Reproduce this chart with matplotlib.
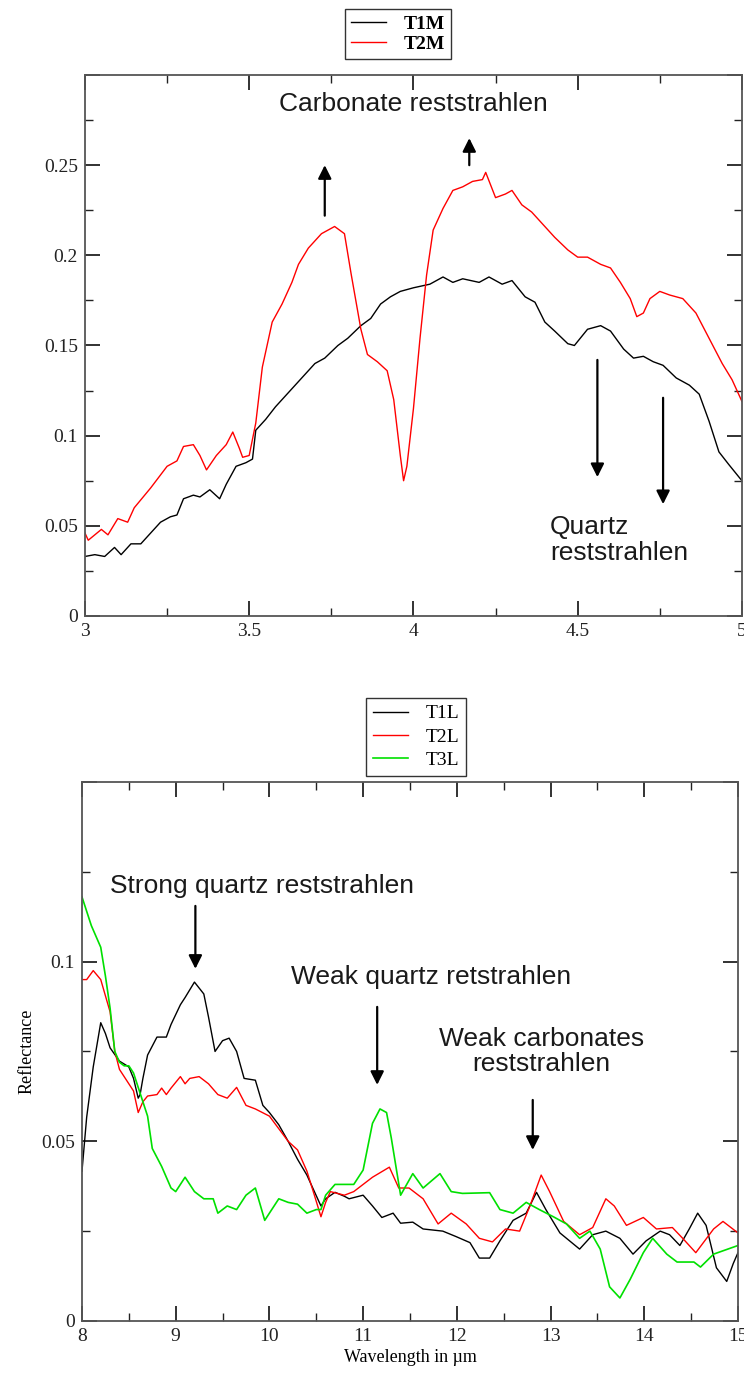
import matplotlib
matplotlib.use("Agg")
import matplotlib.pyplot as plt
from matplotlib.ticker import MultipleLocator, FuncFormatter

# --- mid-IR (3-5 um) spectra ---
wl_t1m = [3.0, 3.03, 3.06, 3.09, 3.11, 3.14, 3.17, 3.2, 3.23, 3.26, 3.28, 3.3, 3.33, 3.35,
          3.38, 3.41, 3.43, 3.46, 3.49, 3.51, 3.52, 3.55, 3.58, 3.62, 3.66, 3.7, 3.73, 3.77,
          3.8, 3.84, 3.87, 3.9, 3.93, 3.96, 4.0, 4.05, 4.09, 4.12, 4.15, 4.2, 4.23, 4.27,
          4.3, 4.34, 4.37, 4.4, 4.43, 4.47, 4.49, 4.53, 4.57, 4.6, 4.64, 4.67, 4.7, 4.73,
          4.76, 4.8, 4.84, 4.87, 4.9, 4.93, 4.96, 5.0]
t1m = [0.033, 0.034, 0.033, 0.038, 0.034, 0.040, 0.040, 0.046, 0.052, 0.055, 0.056, 0.065,
       0.067, 0.066, 0.070, 0.065, 0.073, 0.083, 0.085, 0.087, 0.103, 0.109, 0.116, 0.124,
       0.132, 0.140, 0.143, 0.150, 0.154, 0.161, 0.165, 0.173, 0.177, 0.180, 0.182, 0.184,
       0.188, 0.185, 0.187, 0.185, 0.188, 0.184, 0.186, 0.177, 0.174, 0.163, 0.158, 0.151,
       0.150, 0.159, 0.161, 0.158, 0.148, 0.143, 0.144, 0.141, 0.139, 0.132, 0.128, 0.123,
       0.108, 0.091, 0.084, 0.075]

wl_t2m = [3.0, 3.01, 3.05, 3.07, 3.1, 3.13, 3.15, 3.2, 3.25, 3.28, 3.3, 3.33, 3.35, 3.37,
          3.4, 3.43, 3.45, 3.47, 3.48, 3.5, 3.52, 3.54, 3.57, 3.6, 3.63, 3.65, 3.68, 3.72,
          3.76, 3.79, 3.81, 3.84, 3.86, 3.89, 3.92, 3.94, 3.96, 3.97, 3.98, 4.0, 4.02, 4.04,
          4.06, 4.09, 4.12, 4.15, 4.18, 4.21, 4.22, 4.25, 4.28, 4.3, 4.33, 4.36, 4.4, 4.43,
          4.47, 4.5, 4.53, 4.57, 4.6, 4.63, 4.66, 4.68, 4.7, 4.72, 4.75, 4.78, 4.82, 4.86,
          4.9, 4.94, 4.97, 5.0]
t2m = [0.046, 0.042, 0.048, 0.045, 0.054, 0.052, 0.060, 0.071, 0.083, 0.086, 0.094, 0.095,
       0.089, 0.081, 0.089, 0.095, 0.102, 0.093, 0.088, 0.089, 0.107, 0.138, 0.163, 0.173,
       0.185, 0.195, 0.204, 0.212, 0.216, 0.212, 0.190, 0.159, 0.145, 0.141, 0.136, 0.120,
       0.089, 0.075, 0.083, 0.115, 0.154, 0.189, 0.214, 0.226, 0.236, 0.238, 0.241, 0.242,
       0.246, 0.232, 0.234, 0.236, 0.228, 0.224, 0.216, 0.210, 0.203, 0.199, 0.199, 0.195,
       0.193, 0.185, 0.176, 0.166, 0.168, 0.176, 0.180, 0.178, 0.176, 0.168, 0.154, 0.140,
       0.131, 0.119]

# --- thermal IR (8-15 um) spectra ---
wl_t1l = [8.0, 8.05, 8.12, 8.2, 8.25, 8.3, 8.4, 8.5, 8.55, 8.6, 8.62, 8.65, 8.7, 8.8, 8.9,
          8.95, 9.05, 9.1, 9.2, 9.3, 9.35, 9.42, 9.5, 9.57, 9.65, 9.73, 9.85, 9.93, 10.0,
          10.1, 10.2, 10.3, 10.4, 10.48, 10.55, 10.6, 10.7, 10.8, 10.85, 11.0, 11.1, 11.2,
          11.32, 11.4, 11.53, 11.64, 11.85, 11.99, 12.14, 12.24, 12.35, 12.46, 12.6, 12.74,
          12.85, 12.95, 13.1, 13.31, 13.45, 13.59, 13.74, 13.88, 14.02, 14.17, 14.27, 14.38,
          14.48, 14.57, 14.66, 14.77, 14.88, 14.95, 15.0]
t1l = [0.0417, 0.0567, 0.0707, 0.083, 0.080, 0.076, 0.0723, 0.0707, 0.0675, 0.062, 0.063,
       0.0675, 0.074, 0.079, 0.079, 0.0825, 0.088, 0.090, 0.0943, 0.091, 0.0846, 0.075,
       0.078, 0.0787, 0.075, 0.0675, 0.067, 0.060, 0.058, 0.0546, 0.050, 0.045, 0.0406,
       0.036, 0.032, 0.034, 0.0358, 0.0347, 0.034, 0.035, 0.032, 0.0288, 0.030, 0.0272,
       0.0275, 0.0256, 0.025, 0.0235, 0.0218, 0.0175, 0.0175, 0.0223, 0.028, 0.030, 0.0358,
       0.031, 0.0245, 0.020, 0.024, 0.025, 0.023, 0.0186, 0.0223, 0.025, 0.024, 0.021,
       0.0256, 0.030, 0.0266, 0.0148, 0.011, 0.016, 0.019]

wl_t2l = [8.0, 8.05, 8.12, 8.2, 8.3, 8.35, 8.4, 8.5, 8.55, 8.6, 8.65, 8.7, 8.8, 8.85, 8.9,
          8.95, 9.05, 9.1, 9.15, 9.25, 9.35, 9.45, 9.55, 9.65, 9.75, 9.85, 10.0, 10.1, 10.2,
          10.3, 10.4, 10.48, 10.55, 10.6, 10.65, 10.8, 10.9, 11.0, 11.1, 11.28, 11.38,
          11.49, 11.64, 11.8, 11.94, 12.1, 12.24, 12.38, 12.52, 12.67, 12.78, 12.9, 12.99,
          13.14, 13.31, 13.45, 13.59, 13.68, 13.81, 13.99, 14.13, 14.3, 14.41, 14.55,
          14.74, 14.84, 15.0]
t2l = [0.095, 0.095, 0.0975, 0.095, 0.086, 0.075, 0.070, 0.066, 0.064, 0.058, 0.061,
       0.0626, 0.063, 0.0648, 0.063, 0.0648, 0.068, 0.066, 0.0675, 0.068, 0.066, 0.063,
       0.062, 0.065, 0.060, 0.059, 0.057, 0.0535, 0.050, 0.0476, 0.0417, 0.035, 0.029,
       0.033, 0.036, 0.035, 0.036, 0.038, 0.040, 0.0428, 0.037, 0.037, 0.034, 0.027,
       0.030, 0.027, 0.023, 0.022, 0.0256, 0.025, 0.032, 0.0406, 0.036, 0.0277, 0.024,
       0.026, 0.034, 0.032, 0.0266, 0.0288, 0.0256, 0.026, 0.023, 0.019, 0.0256, 0.0277,
       0.0245]

wl_t3l = [8.0, 8.1, 8.2, 8.25, 8.3, 8.35, 8.4, 8.45, 8.5, 8.55, 8.6, 8.65, 8.7, 8.75, 8.85,
          8.95, 9.0, 9.05, 9.1, 9.2, 9.3, 9.4, 9.45, 9.55, 9.65, 9.75, 9.85, 9.95, 10.1,
          10.2, 10.3, 10.4, 10.5, 10.55, 10.6, 10.7, 10.8, 10.9, 11.0, 11.1, 11.18, 11.25,
          11.3, 11.4, 11.53, 11.64, 11.82, 11.94, 12.06, 12.35, 12.46, 12.6, 12.74, 12.88,
          13.03, 13.17, 13.31, 13.42, 13.53, 13.63, 13.74, 13.85, 13.99, 14.09, 14.24,
          14.35, 14.53, 14.6, 14.74, 15.0]
t3l = [0.118, 0.110, 0.104, 0.096, 0.087, 0.075, 0.072, 0.071, 0.071, 0.069, 0.065, 0.061,
       0.057, 0.048, 0.043, 0.037, 0.036, 0.038, 0.040, 0.036, 0.034, 0.034, 0.030, 0.032,
       0.031, 0.035, 0.037, 0.028, 0.034, 0.033, 0.0325, 0.030, 0.031, 0.031, 0.035, 0.038,
       0.038, 0.038, 0.042, 0.055, 0.059, 0.058, 0.051, 0.035, 0.041, 0.037, 0.041, 0.036,
       0.0355, 0.0357, 0.031, 0.030, 0.033, 0.031, 0.029, 0.027, 0.023, 0.025, 0.020,
       0.0095, 0.0064, 0.0116, 0.019, 0.023, 0.0186, 0.0164, 0.0164, 0.015, 0.0186, 0.021]

serif = "Liberation Serif"
sans = "Liberation Sans"
txt_color = "#1a1a1a"

fig = plt.figure(figsize=(7.44, 13.74), dpi=100)
ax1 = fig.add_axes([0.1142, 0.5517, 0.883, 0.3937])
ax2 = fig.add_axes([0.1102, 0.0386, 0.8817, 0.3923])


def style_axes(ax, xmaj, xmin, ymaj, ymin, ytop):
    ax.xaxis.set_major_locator(MultipleLocator(xmaj))
    ax.xaxis.set_minor_locator(MultipleLocator(xmin))
    ax.yaxis.set_major_locator(MultipleLocator(ymaj))
    ax.yaxis.set_minor_locator(MultipleLocator(ymin))
    ax.xaxis.set_major_formatter(FuncFormatter(lambda v, p: f"{v:g}"))
    # grace style: no label on the top end of the y axis
    ax.yaxis.set_major_formatter(
        FuncFormatter(lambda v, p: "" if v > ytop - 1e-9 else f"{round(v, 4):g}"))
    ax.tick_params(which="both", direction="in", top=True, right=True,
                   color="#222222", labelsize=14, pad=5)
    ax.tick_params(which="major", length=11, width=1.3)
    ax.tick_params(which="minor", length=6, width=1.0)
    for s in ax.spines.values():
        s.set_color("#555555")
        s.set_linewidth(1.3)
    for lab in ax.get_xticklabels() + ax.get_yticklabels():
        lab.set_fontfamily(serif)
        lab.set_color("#222222")


def arrow(ax, x0, y0, x1, y1):
    ax.annotate("", xy=(x1, y1), xytext=(x0, y0),
                arrowprops=dict(arrowstyle="-|>", color="black", lw=1.6,
                                mutation_scale=20, shrinkA=0, shrinkB=0))


# top panel
ax1.plot(wl_t1m, t1m, color="black", lw=1.0, label="T1M")
ax1.plot(wl_t2m, t2m, color="red", lw=1.0, label="T2M")
ax1.set_xlim(3, 5)
ax1.set_ylim(0, 0.3)
style_axes(ax1, 0.5, 0.25, 0.05, 0.025, 0.3)
ax1.text(4.0, 0.284, "Carbonate reststrahlen", fontsize=19, family=sans,
         color=txt_color, ha="center", va="center")
arrow(ax1, 3.73, 0.222, 3.73, 0.250)
arrow(ax1, 4.17, 0.250, 4.17, 0.265)
arrow(ax1, 4.56, 0.142, 4.56, 0.077)
arrow(ax1, 4.76, 0.121, 4.76, 0.062)
ax1.text(4.415, 0.042, "Quartz\nreststrahlen", fontsize=19, family=sans,
         color=txt_color, ha="left", va="center", linespacing=1.1)
leg1 = ax1.legend(loc="upper left", bbox_to_anchor=(0.4637, 0.9934),
                  bbox_transform=fig.transFigure, borderaxespad=0,
                  fancybox=False, edgecolor="#333333", framealpha=1,
                  prop={"family": serif, "size": 14, "weight": "bold"},
                  handlelength=1.8, handletextpad=0.9, labelspacing=0.15,
                  borderpad=0.3)
leg1.get_frame().set_linewidth(1.0)

# bottom panel
ax2.plot(wl_t1l, t1l, color="black", lw=1.0, label="T1L")
ax2.plot(wl_t2l, t2l, color="red", lw=1.0, label="T2L")
ax2.plot(wl_t3l, t3l, color="#00e000", lw=1.2, label="T3L")
ax2.set_xlim(8, 15)
ax2.set_ylim(0, 0.15)
style_axes(ax2, 1, 0.5, 0.05, 0.025, 0.15)
ax2.set_xlabel("Wavelength in µm", family=serif, fontsize=13, labelpad=3)
ax2.set_ylabel("Reflectance", family=serif, fontsize=13, labelpad=4)
ax2.text(9.92, 0.121, "Strong quartz reststrahlen", fontsize=19, family=sans,
         color=txt_color, ha="center", va="center")
ax2.text(11.72, 0.0957, "Weak quartz retstrahlen", fontsize=19, family=sans,
         color=txt_color, ha="center", va="center")
ax2.text(12.9, 0.0751, "Weak carbonates\nreststrahlen", fontsize=19, family=sans,
         color=txt_color, ha="center", va="center", linespacing=1.05)
arrow(ax2, 9.21, 0.1155, 9.21, 0.098)
arrow(ax2, 11.15, 0.0874, 11.15, 0.0657)
arrow(ax2, 12.81, 0.0615, 12.81, 0.0476)
leg2 = ax2.legend(loc="upper left", bbox_to_anchor=(0.492, 0.492),
                  bbox_transform=fig.transFigure, borderaxespad=0,
                  fancybox=False, edgecolor="#333333", framealpha=1,
                  prop={"family": serif, "size": 14},
                  handlelength=1.8, handletextpad=0.9, labelspacing=0.3,
                  borderpad=0.35)
leg2.get_frame().set_linewidth(1.0)

fig.savefig("out.png", dpi=100)
